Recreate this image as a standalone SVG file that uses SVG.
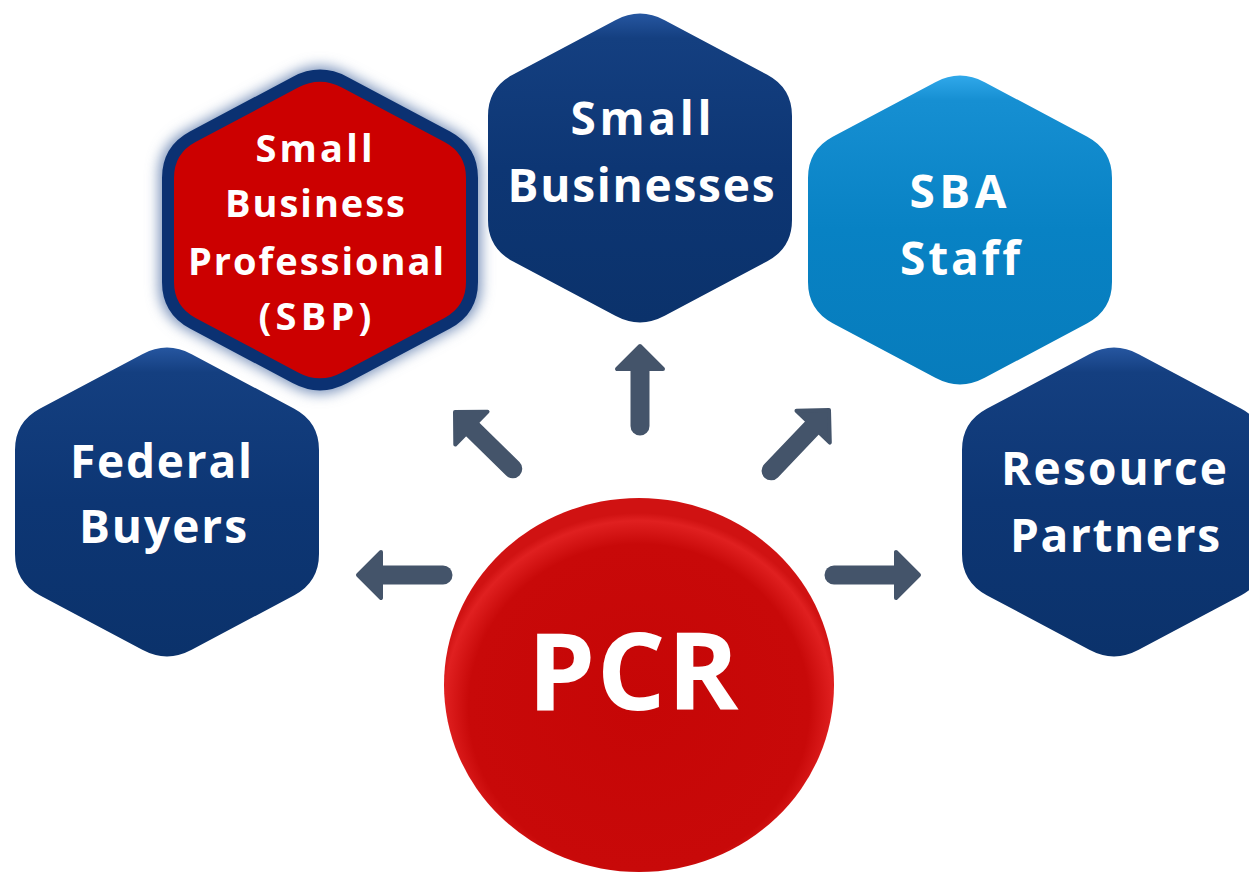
<svg xmlns="http://www.w3.org/2000/svg" xmlns:xlink="http://www.w3.org/1999/xlink" width="1249" height="872" viewBox="0 0 1249 872">
  <style>
    .lbl { font-family: "Open Sans", "Lato", "Liberation Sans", sans-serif; font-weight: bold; fill: #ffffff; text-anchor: middle; font-variant-ligatures: none; }
    .big { font-size: 46px; }
    .mid { font-size: 38px; }
    .pcr { font-size: 108px; }
    .arrow-shaft { stroke: #44546a; stroke-width: 19; stroke-linecap: round; fill: none; }
    .arrow-head { fill: #44546a; stroke: #44546a; stroke-width: 4; stroke-linejoin: round; }
  </style>
  <defs>
    <path id="hex" d="M -24.7,-147.8 Q 0,-161 24.7,-147.8 L 127.3,-93.2 Q 152,-80 152,-52 L 152,52 Q 152,80 127.3,93.2 L 24.7,147.8 Q 0,161 -24.7,147.8 L -127.3,93.2 Q -152,80 -152,52 L -152,-52 Q -152,-80 -127.3,-93.2 Z"/>
    <linearGradient id="gDark" x1="0" y1="0" x2="0" y2="1">
      <stop offset="0" stop-color="#2656a0"/>
      <stop offset="0.08" stop-color="#143f80"/>
      <stop offset="0.5" stop-color="#0d3674"/>
      <stop offset="1" stop-color="#0b326b"/>
    </linearGradient>
    <linearGradient id="gLight" x1="0" y1="0" x2="0" y2="1">
      <stop offset="0" stop-color="#30a8ea"/>
      <stop offset="0.08" stop-color="#168fd2"/>
      <stop offset="0.5" stop-color="#0882c4"/>
      <stop offset="1" stop-color="#077cbc"/>
    </linearGradient>
    <radialGradient id="gRed" cx="0.5" cy="0.56" r="0.52">
      <stop offset="0" stop-color="#c60606"/>
      <stop offset="0.84" stop-color="#c80909"/>
      <stop offset="0.96" stop-color="#e02020"/>
      <stop offset="1" stop-color="#d01212"/>
    </radialGradient>
    <filter id="glow" x="-20%" y="-20%" width="140%" height="140%">
      <feGaussianBlur stdDeviation="6"/>
    </filter>
  </defs>

  <rect width="1249" height="872" fill="#ffffff"/>

  <g id="node-federal-buyers">
    <use xlink:href="#hex" href="#hex" transform="translate(167,502)" fill="url(#gDark)"/>
    <text class="lbl big" x="161" y="478" textLength="182" lengthAdjust="spacing">Federal</text>
    <text class="lbl big" x="163" y="543" textLength="168" lengthAdjust="spacing">Buyers</text>
  </g>

  <g id="node-sbp">
    <use xlink:href="#hex" href="#hex" transform="translate(320,230) scale(1.06,1.06)" fill="#7a93bb" filter="url(#glow)"/>
    <use xlink:href="#hex" href="#hex" transform="translate(320,230)" fill="#cc0000" stroke="#0b3172" stroke-width="12"/>
    <text class="lbl mid" x="314" y="162" textLength="117" lengthAdjust="spacing">Small</text>
    <text class="lbl mid" x="315" y="217" textLength="180" lengthAdjust="spacing">Business</text>
    <text class="lbl mid" x="316" y="275" textLength="256" lengthAdjust="spacing">Professional</text>
    <text class="lbl mid" x="315" y="330" textLength="113" lengthAdjust="spacing">(SBP)</text>
  </g>

  <g id="node-small-businesses">
    <use xlink:href="#hex" href="#hex" transform="translate(640,168)" fill="url(#gDark)"/>
    <text class="lbl big" x="641" y="135" textLength="141" lengthAdjust="spacing">Small</text>
    <text class="lbl big" x="641" y="202" textLength="267" lengthAdjust="spacing">Businesses</text>
  </g>

  <g id="node-resource-partners">
    <use xlink:href="#hex" href="#hex" transform="translate(1114,502)" fill="url(#gDark)"/>
    <text class="lbl big" x="1114" y="485" textLength="226" lengthAdjust="spacing">Resource</text>
    <text class="lbl big" x="1115" y="552" textLength="210" lengthAdjust="spacing">Partners</text>
  </g>

  <g id="node-sba-staff">
    <use xlink:href="#hex" href="#hex" transform="translate(960,230)" fill="url(#gLight)"/>
    <text class="lbl big" x="958" y="208" textLength="97" lengthAdjust="spacing">SBA</text>
    <text class="lbl big" x="960" y="275" textLength="120" lengthAdjust="spacing">Staff</text>
  </g>

  <g id="connectors">
    <g transform="translate(640,346) rotate(-90)">
      <line class="arrow-shaft" x1="-80" y1="0" x2="-22" y2="0"/>
      <polygon class="arrow-head" points="0,0 -23,-23 -23,23"/>
    </g>
    <g transform="translate(358,575) rotate(180)">
      <line class="arrow-shaft" x1="-85" y1="0" x2="-22" y2="0"/>
      <polygon class="arrow-head" points="0,0 -23,-23 -23,23"/>
    </g>
    <g transform="translate(919,575)">
      <line class="arrow-shaft" x1="-85" y1="0" x2="-22" y2="0"/>
      <polygon class="arrow-head" points="0,0 -23,-23 -23,23"/>
    </g>
    <g transform="translate(455,412) rotate(-135.5)">
      <line class="arrow-shaft" x1="-81" y1="0" x2="-22" y2="0"/>
      <polygon class="arrow-head" points="0,0 -23,-23 -23,23"/>
    </g>
    <g transform="translate(829,410) rotate(-46.4)">
      <line class="arrow-shaft" x1="-84" y1="0" x2="-22" y2="0"/>
      <polygon class="arrow-head" points="0,0 -23,-23 -23,23"/>
    </g>
  </g>

  <g id="node-pcr">
    <ellipse cx="639" cy="685" rx="195" ry="187" fill="url(#gRed)"/>
    <text class="lbl pcr" x="633" y="710" textLength="211" lengthAdjust="spacing">PCR</text>
  </g>
</svg>
